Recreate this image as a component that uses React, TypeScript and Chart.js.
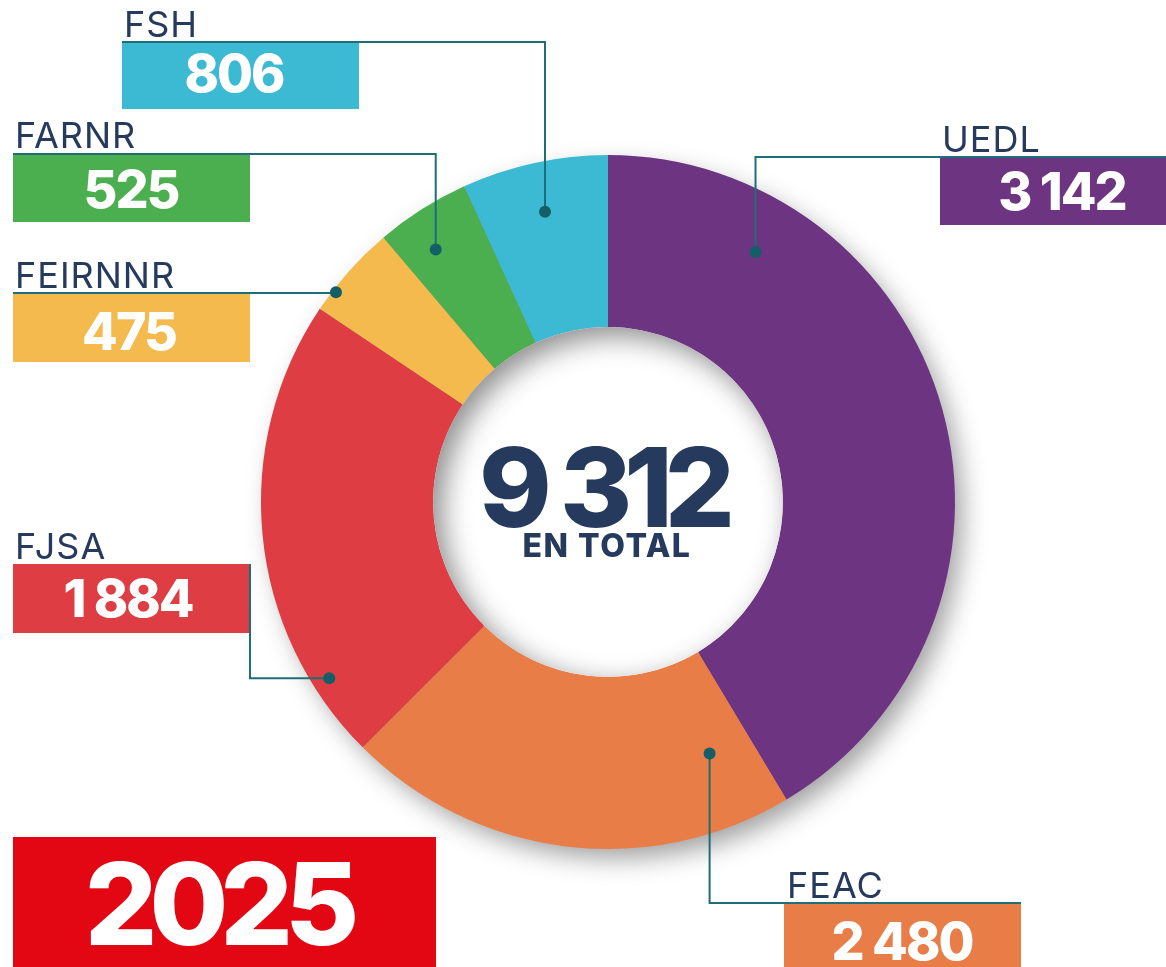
import React, { useEffect, useRef } from "react";
import { Chart, registerables } from "chart.js";

Chart.register(...registerables);

// ---- data ----
const categories = ["UEDL", "FEAC", "FJSA", "FEIRNNR", "FARNR", "FSH"];
const counts = [3142, 2480, 1884, 475, 525, 806];
// share of the ring each slice occupies as drawn in the reference (%)
const sliceShares = [41.4, 21.1, 21.9, 4.4, 4.4, 6.8];
const sliceColors = ["#6D3581", "#E87D47", "#DD3D43", "#F4BA4E", "#4BAE4F", "#3CBAD4"];
const totalCaption = "EN TOTAL";
const yearLabel = "2025";

const fmt = (n: number) =>
  n >= 1000 ? `${Math.floor(n / 1000)} ${String(n % 1000).padStart(3, "0")}` : String(n);

const NAVY = "#263A5E";
const TEAL = "#1E6E77";
const DOT = "#145E68";

// layout of call-out boxes (styling, not data)
const callouts = [
  { box: { x: 940, y: 157, w: 226, h: 68 }, nameX: 942, nameY: 152, valX: 1062, valY: 210, route: "h", lx: 1166, ly: 157, t: 0.205, f: 0.67 },
  { box: { x: 784, y: 903, w: 237, h: 64 }, nameX: 787, nameY: 898, valX: 902, valY: 960, route: "h", lx: 1021, ly: 903, t: 0.118, f: 0.56 },
  { box: { x: 13, y: 564, w: 237, h: 69 }, nameX: 15, nameY: 559, valX: 128, valY: 617, route: "v", lx: 250, ly: 564, t: 0.161, f: 0.9 },
  { box: { x: 13, y: 293, w: 237, h: 69 }, nameX: 15, nameY: 288, valX: 129, valY: 350, route: "h", lx: 13, ly: 293, t: 0.24, f: 0.98 },
  { box: { x: 13, y: 154, w: 237, h: 68 }, nameX: 15, nameY: 148, valX: 131, valY: 208, route: "h", lx: 13, ly: 154, t: 0.38, f: 0.76 },
  { box: { x: 122, y: 42, w: 237, h: 67 }, nameX: 124, nameY: 37, valX: 234, valY: 92, route: "h", lx: 122, ly: 42, t: 0.5, f: 0.71 },
];

const decorPlugin = {
  id: "decor",
  beforeDatasetsDraw(chart: any) {
    const arc = chart.getDatasetMeta(0).data[0];
    if (!arc) return;
    const { x, y, outerRadius, innerRadius } = arc.getProps(["x", "y", "outerRadius", "innerRadius"], true);
    const ctx = chart.ctx;
    ctx.save();
    ctx.shadowColor = "rgba(0,0,0,0.38)";
    ctx.shadowBlur = 26;
    ctx.shadowOffsetX = 9;
    ctx.shadowOffsetY = 11;
    ctx.fillStyle = "#888";
    ctx.beginPath();
    ctx.arc(x, y, outerRadius - 2, 0, Math.PI * 2);
    ctx.arc(x, y, innerRadius + 2, 0, Math.PI * 2, true);
    ctx.fill("evenodd");
    ctx.restore();
  },
  afterDatasetsDraw(chart: any) {
    const meta = chart.getDatasetMeta(0);
    const ctx = chart.ctx;
    const a0 = meta.data[0];
    const { x: cx, y: cy, innerRadius } = a0.getProps(["x", "y", "innerRadius"], true);

    // inner shadow inside the hole
    ctx.save();
    ctx.beginPath();
    ctx.arc(cx, cy, innerRadius, 0, Math.PI * 2);
    ctx.clip();
    ctx.fillStyle = "#fff";
    ctx.fill();
    ctx.shadowColor = "rgba(0,0,0,0.45)";
    ctx.shadowBlur = 28;
    ctx.shadowOffsetX = 9;
    ctx.shadowOffsetY = 9;
    ctx.beginPath();
    ctx.rect(cx - innerRadius - 300, cy - innerRadius - 300, innerRadius * 2 + 600, innerRadius * 2 + 600);
    ctx.arc(cx, cy, innerRadius, 0, Math.PI * 2, true);
    ctx.fillStyle = "#fff";
    ctx.fill("evenodd");
    ctx.restore();

    // centre text
    ctx.save();
    ctx.fillStyle = NAVY;
    ctx.textAlign = "center";
    ctx.textBaseline = "alphabetic";
    ctx.font = "800 110px Inter";
    (ctx as any).letterSpacing = "-8px";
    ctx.fillText(fmt(counts.reduce((s, v) => s + v, 0)), cx - 5, 527);
    ctx.font = "800 32px Inter";
    (ctx as any).letterSpacing = "1.5px";
    ctx.fillText(totalCaption, cx - 1, 557);
    ctx.restore();

    // call-outs
    ctx.save();
    callouts.forEach((c, i) => {
      const arc = meta.data[i];
      const p = arc.getProps(["x", "y", "startAngle", "endAngle", "innerRadius", "outerRadius"], true);
      const ang = p.startAngle + c.t * (p.endAngle - p.startAngle);
      const rad = p.innerRadius + c.f * (p.outerRadius - p.innerRadius);
      const dx = p.x + Math.cos(ang) * rad;
      const dy = p.y + Math.sin(ang) * rad;

      ctx.fillStyle = sliceColors[i];
      ctx.fillRect(c.box.x, c.box.y, c.box.w, c.box.h);

      ctx.strokeStyle = TEAL;
      ctx.lineWidth = 2;
      ctx.beginPath();
      ctx.moveTo(c.lx, c.ly);
      if (c.route === "h") ctx.lineTo(dx, c.ly);
      else ctx.lineTo(c.lx, dy);
      ctx.lineTo(dx, dy);
      ctx.stroke();

      ctx.fillStyle = DOT;
      ctx.beginPath();
      ctx.arc(dx, dy, 6, 0, Math.PI * 2);
      ctx.fill();

      ctx.fillStyle = NAVY;
      ctx.textAlign = "left";
      ctx.font = "400 36px Inter";
      (ctx as any).letterSpacing = "1px";
      ctx.fillText(categories[i], c.nameX, c.nameY);

      ctx.fillStyle = "#fff";
      ctx.textAlign = "center";
      ctx.font = "800 52px Inter";
      (ctx as any).letterSpacing = "-2px";
      ctx.fillText(fmt(counts[i]), c.valX, c.valY);
    });

    // year box
    ctx.fillStyle = "#E30613";
    ctx.fillRect(13, 837, 423, 130);
    ctx.fillStyle = "#fff";
    ctx.textAlign = "center";
    ctx.font = "800 114px Inter";
    (ctx as any).letterSpacing = "-8px";
    ctx.fillText(yearLabel, 218, 945);
    ctx.restore();
  },
};

export default function App() {
  const ref = useRef<HTMLCanvasElement | null>(null);
  useEffect(() => {
    if (!ref.current) return;
    const chart = new Chart(ref.current, {
      type: "doughnut",
      data: {
        labels: categories,
        datasets: [
          {
            data: sliceShares,
            backgroundColor: sliceColors,
            borderWidth: 0,
          },
        ],
      },
      options: {
        responsive: false,
        animation: false,
        events: [],
        cutout: "50.4%",
        rotation: 0,
        layout: { padding: { left: 261, right: 211, top: 155, bottom: 118 } },
        plugins: { legend: { display: false }, tooltip: { enabled: false } },
      },
      plugins: [decorPlugin],
    });
    return () => chart.destroy();
  }, []);
  return (
    <div style={{ position: "fixed", left: 0, top: 0, width: 1166, height: 967, background: "#fff" }}>
      <canvas ref={ref} width={1166} height={967} style={{ display: "block" }} />
    </div>
  );
}
